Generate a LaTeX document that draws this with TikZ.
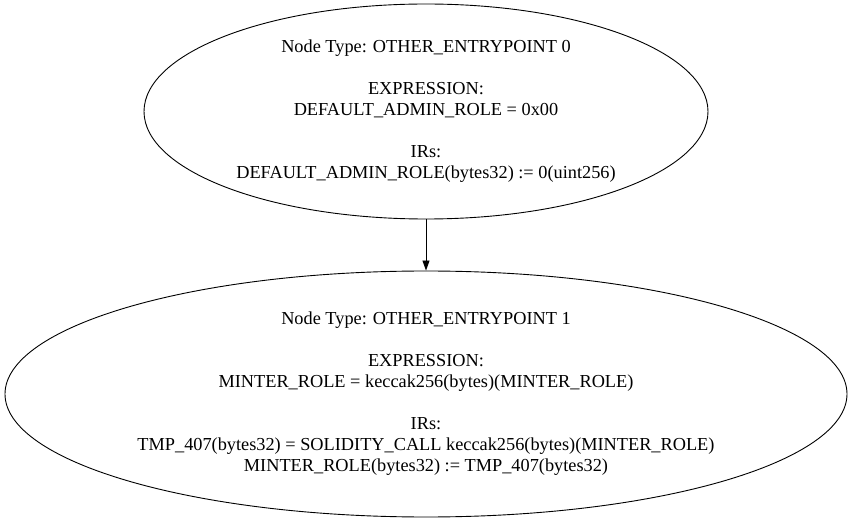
\documentclass[tikz,border=0pt]{standalone}
\usepackage{fontspec}
\setmainfont{Liberation Serif}
\usetikzlibrary{shapes.geometric,arrows.meta}
\tikzset{
  irnode/.style={draw,ellipse,align=center,inner sep=0pt,line width=0.9pt,
    font=\fontsize{18.3}{21}\selectfont},
  irflow/.style={line width=0.9pt,-{Triangle[length=10pt,width=7pt]}}
}
\begin{document}
\begin{tikzpicture}[x=1pt,y=-1pt]
\useasboundingbox (0,0) rectangle (852,521);
% entry point 0
\node[irnode,minimum width=564pt,minimum height=215pt] (ep0) at (426,111.5)
  {Node Type: OTHER\_ENTRYPOINT 0\\[21pt]
   EXPRESSION:\\ DEFAULT\_ADMIN\_ROLE = 0x00\\[21pt]
   IRs:\\ DEFAULT\_ADMIN\_ROLE(bytes32) := 0(uint256)};
% entry point 1
\node[irnode,minimum width=842pt,minimum height=246pt] (ep1) at (426,394)
  {Node Type: OTHER\_ENTRYPOINT 1\\[21pt]
   EXPRESSION:\\ MINTER\_ROLE = keccak256(bytes)(MINTER\_ROLE)\\[21pt]
   IRs:\\ TMP\_407(bytes32) = SOLIDITY\_CALL keccak256(bytes)(MINTER\_ROLE)\\
   MINTER\_ROLE(bytes32) := TMP\_407(bytes32)};
\draw[irflow] (ep0) -- (ep1);
\end{tikzpicture}
\end{document}
